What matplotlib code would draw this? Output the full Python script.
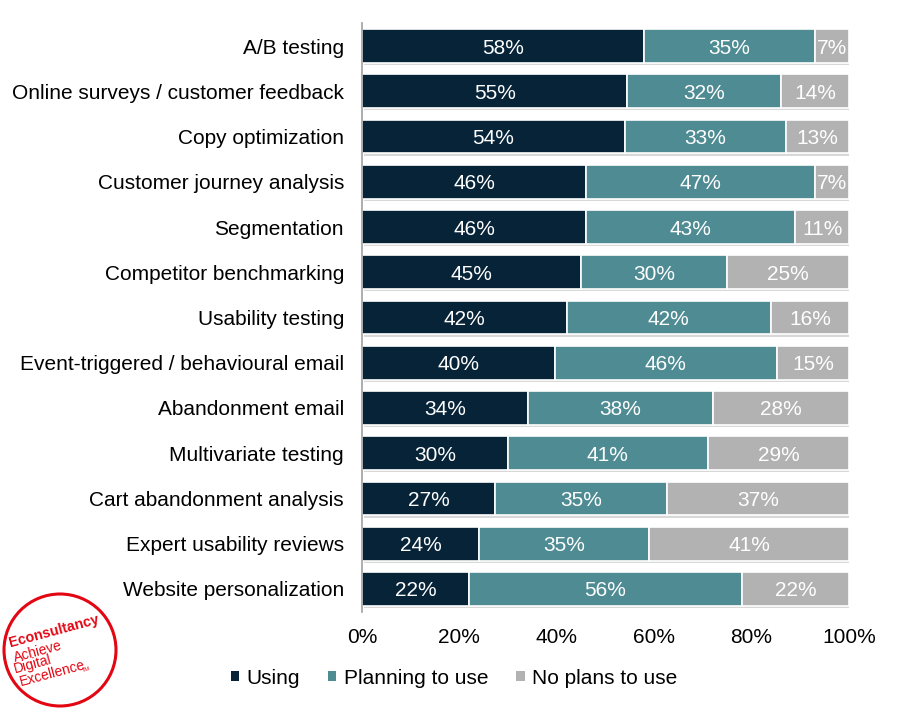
import matplotlib
matplotlib.use("Agg")
import matplotlib.pyplot as plt
import matplotlib.patheffects as pe
from matplotlib.patches import Circle, Rectangle
import numpy as np

plt.rcParams['font.family'] = ['Liberation Sans', 'DejaVu Sans']

categories = ["A/B testing", "Online surveys / customer feedback", "Copy optimization",
              "Customer journey analysis", "Segmentation", "Competitor benchmarking",
              "Usability testing", "Event-triggered / behavioural email", "Abandonment email",
              "Multivariate testing", "Cart abandonment analysis", "Expert usability reviews",
              "Website personalization"]
using = [58, 55, 54, 46, 46, 45, 42, 40, 34, 30, 27, 24, 22]
planning = [35, 32, 33, 47, 43, 30, 42, 46, 38, 41, 35, 35, 56]
no_plans = [7, 14, 13, 7, 11, 25, 16, 15, 28, 29, 37, 41, 22]
series_names = ["Using", "Planning to use", "No plans to use"]
colors = ["#062338", "#4E8B93", "#B2B2B2"]
xticks = [0, 20, 40, 60, 80, 100]

FS = 15
fig = plt.figure(figsize=(9.01, 7.10), dpi=100)
ax = fig.add_axes([362/901, 1-611.6/710, (849-362)/901, (611.6-23.4)/710])

y = np.arange(len(categories))
series = [using, planning, no_plans]
tot = np.array(using) + np.array(planning) + np.array(no_plans)
left = np.zeros(len(categories))
shadow = [pe.SimplePatchShadow(offset=(1.5, -1.5), shadow_rgbFace='#AAAAAA', alpha=0.45), pe.Normal()]
for vals, col, name in zip(series, colors, series_names):
    vals = np.array(vals, dtype=float)
    w = vals / tot * 100
    ax.barh(y, w, left=left, height=0.75, color=col, edgecolor='white',
            linewidth=1.2, path_effects=shadow)
    for yi, l, wi, v in zip(y, left, w, vals):
        ax.text(l + wi / 2, yi, f"{int(v)}%", ha='center', va='center_baseline',
                color='white', fontsize=FS)
    left = left + w

ax.set_ylim(len(categories) - 0.5, -0.5)
ax.set_xlim(0, 100)
ax.set_yticks(y)
ax.set_yticklabels(categories, fontsize=FS)
ax.set_xticks(xticks)
ax.set_xticklabels([f"{t}%" for t in xticks], fontsize=FS)
ax.tick_params(axis='y', length=0, pad=13)
ax.tick_params(axis='x', length=0, pad=12)
for s in ['top', 'right', 'bottom']:
    ax.spines[s].set_visible(False)
ax.spines['left'].set_color('#A0A0A0')
ax.spines['left'].set_linewidth(1.2)

handles = [Rectangle((0, 0), 1, 1, facecolor=c, edgecolor='none') for c in colors]
fig.legend(handles, series_names, loc='center', bbox_to_anchor=(454/901, 1-678/710), ncol=3,
           frameon=False, fontsize=FS, handlelength=0.4, handleheight=0.4,
           handletextpad=0.35, columnspacing=1.35, borderpad=0)

# logo
red = '#E30613'
circ = Circle((60/100, (710-650)/100), 56/100, transform=fig.dpi_scale_trans, fill=False,
              edgecolor=red, linewidth=2.2)
fig.patches.append(circ)
ang = 15
def logo_text(x, yb, s, **kw):
    fig.text(x/901, 1-yb/710, s, color=red, rotation=ang, rotation_mode='anchor',
             ha='left', va='baseline', **kw)
logo_text(10, 647, "Econsultancy", fontsize=10.3, fontweight='bold')
logo_text(15, 662, "Achieve", fontsize=10)
logo_text(15, 673.5, "Digital", fontsize=10)
logo_text(21, 686, "Excellence", fontsize=10)
fig.text(83/901, 1-672/710, "TM", color=red, fontsize=4, rotation=ang, ha='left', va='baseline',
         rotation_mode='anchor')

fig.savefig("out.png", dpi=100, facecolor='white')
